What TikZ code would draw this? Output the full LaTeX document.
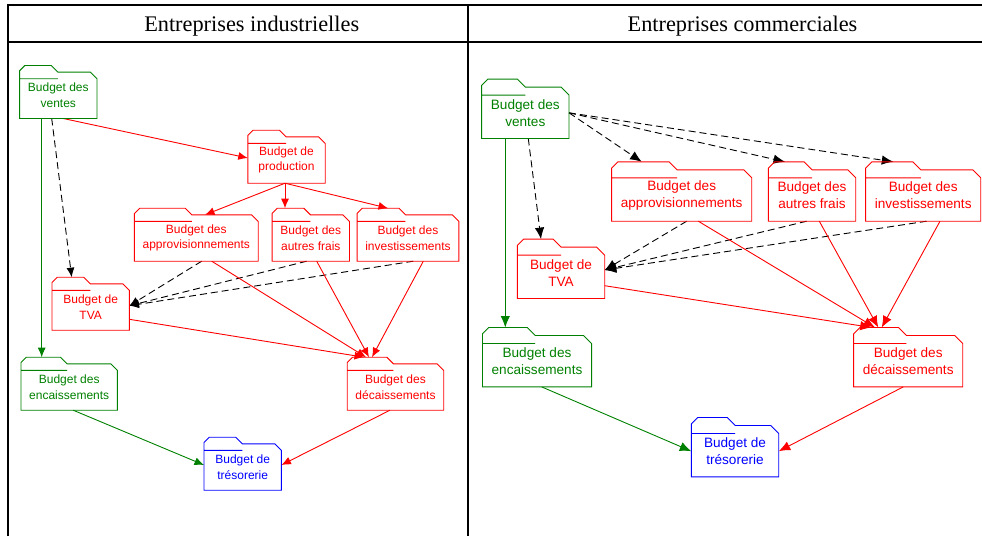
\documentclass[tikz,border=0pt]{standalone}
\usepackage{fontspec}
\setmainfont{Liberation Serif}
\setsansfont{Liberation Sans}
\usetikzlibrary{calc,arrows.meta}
\definecolor{vert}{RGB}{0,128,0}
\tikzset{>={Latex[length=9.5pt,width=8pt]},
  title/.style={font=\fontsize{22.3}{26}\selectfont,anchor=base},
  box/.style={inner xsep=8pt,inner ysep=0pt,align=center,minimum width=77pt,minimum height=46pt,
    font={\sffamily\fontsize{12}{15.5}\selectfont}},
  bigbox/.style={box,inner xsep=9pt,minimum width=87pt,minimum height=51pt,
    font={\sffamily\fontsize{13.6}{17}\selectfont}},
  flow/.style={->,line width=0.9pt},
  dep/.style={->,line width=0.9pt,dash pattern=on 7pt off 4pt}
}

\begin{document}
\begin{tikzpicture}[x=1pt,y=-1pt]
  \useasboundingbox (0,0) rectangle (982,536);
  % table
  \draw[line width=1.2pt] (8,536) -- (8,5) -- (982,5) (8,42) -- (982,42) (468,5) -- (468,536);
  \node[title] (titL) at (251.7,31.5) {Entreprises industrielles};
  \node[title] (titR) at (742.5,31.5) {Entreprises commerciales};

  % entreprises industrielles
  \node[box,text=vert] (venL) at (58.3,95.3) {Budget des\\ventes};
  \node[box,text=red] (prodL) at (286.5,160) {Budget de\\production};
  \node[box,text=red] (appL) at (196.3,238) {Budget des\\approvisionnements};
  \node[box,text=red] (autL) at (310.8,238) {Budget des\\autres frais};
  \node[box,text=red] (invL) at (408,238) {Budget des\\investissements};
  \node[box,text=red] (tvaL) at (90.7,307) {Budget de\\TVA};
  \node[box,text=vert] (encL) at (69.2,387) {Budget des\\encaissements};
  \node[box,text=red] (decL) at (395.5,387) {Budget des\\décaissements};
  \node[box,text=blue] (tresL) at (242.7,467) {Budget de\\trésorerie};

  \draw[flow,red] ([xshift=5pt]venL.south) -- ([yshift=2pt]prodL.west);
  \draw[dep] ([xshift=-6.6pt]venL.south) -- ([xshift=-19pt,yshift=6.6pt]tvaL.north);
  \draw[flow,vert] ([xshift=-16.6pt]venL.south) -- ([xshift=-27.5pt,yshift=6.6pt]encL.north);
  \draw[flow,red] ([xshift=-1.5pt]prodL.south) -- ([xshift=8.7pt]appL.north);
  \draw[flow,red] ([xshift=-1.5pt]prodL.south) -- ([xshift=-25.8pt,yshift=6.6pt]autL.north);
  \draw[flow,red] ([xshift=-1.5pt]prodL.south) -- ([xshift=-20pt,yshift=6.6pt]invL.north);
  \foreach \s/\d in {appL/5.4,autL/-4.1,invL/5.3}
    \draw[dep] ([xshift=\d pt]\s.south) -- ([yshift=1.3pt]tvaL.east);
  \foreach \s/\d/\e in {appL/15.4/-29.5,autL/5.9/-26.5,invL/15.3/-23.5}
    \draw[flow,red] ([xshift=\d pt]\s.south) -- ([xshift=\e pt,yshift=6.6pt]decL.north);
  \draw[flow,red] ([yshift=-12.3pt]tvaL.east) -- ([xshift=-31.5pt,yshift=6.6pt]decL.north);
  \draw[flow,vert] ([xshift=4pt]encL.south) -- ([yshift=2pt]tresL.west);
  \draw[flow,red] ([xshift=-5.5pt]decL.south) -- ([yshift=2pt]tresL.east);

  % entreprises commerciales
  \node[bigbox,text=vert] (venR) at (525.3,112.8) {Budget des\\ventes};
  \node[bigbox,text=red] (appR) at (681.7,195.5) {Budget des\\approvisionnements};
  \node[bigbox,text=red] (autR) at (812,195.5) {Budget des\\autres frais};
  \node[bigbox,text=red] (invR) at (923.2,195.5) {Budget des\\investissements};
  \node[bigbox,text=red] (tvaR) at (561,272.8) {Budget de\\TVA};
  \node[bigbox,text=vert] (encR) at (537,361.2) {Budget des\\encaissements};
  \node[bigbox,text=red] (decR) at (908.2,361.2) {Budget des\\décaissements};
  \node[bigbox,text=blue] (tresR) at (735,451.2) {Budget de\\trésorerie};

  \begin{scope}[>={Latex[length=11.5pt,width=9.5pt]}]
  \foreach \d/\e in {appR/-40,autR/-27,invR/-29.9}
    \draw[dep] (venR.east) -- ([xshift=\e pt,yshift=8pt]\d.north);
  \draw[dep] ([xshift=3pt]venR.south) -- ([xshift=-20pt,yshift=8pt]tvaR.north);
  \draw[flow,vert] ([xshift=-20pt]venR.south) -- ([xshift=-31.7pt,yshift=8pt]encR.north);
  \foreach \s/\d in {appR/5,autR/-5.3,invR/3.5}
    \draw[dep] ([xshift=\d pt]\s.south) -- ([yshift=2.8pt]tvaR.east);
  \foreach \s/\d/\e in {appR/16.6/-33.2,autR/7.3/-29.9,invR/16.8/-26.5}
    \draw[flow,red] ([xshift=\d pt]\s.south) -- ([xshift=\e pt,yshift=8pt]decR.north);
  \draw[flow,red] ([yshift=-12.9pt]tvaR.east) -- ([xshift=-36.5pt,yshift=8pt]decR.north);
  \draw[flow,vert] ([xshift=4.7pt]encR.south) -- (tresR.west);
  \draw[flow,red] ([xshift=-5pt]decR.south) -- (tresR.east);
  \end{scope}

  % folder outlines
  \def\tabh{6.6pt}
  \foreach \b/\c in {venL/vert,prodL/red,appL/red,autL/red,invL/red,tvaL/red,encL/vert,decL/red,tresL/blue}
    \draw[\c,line width=0.9pt] let \p1=(\b.south west), \p2=(\b.north east),
        \p3=($(\b.north west)!0.41!(\b.north east)$) in
      (\x1,\y1) -- (\x1,\y2+0.2*\tabh) -- (\x1+0.8*\tabh,\y2+\tabh) -- (\x3,\y2+\tabh)
      -- (\x3+\tabh,\y2) -- (\x2-\tabh,\y2) -- (\x2,\y2-\tabh) -- (\x2,\y1) -- cycle
      (\x1,\y2-\tabh) -- (\x3+\tabh,\y2-\tabh);
  \def\tabh{8pt}
  \foreach \b/\c in {venR/vert,appR/red,autR/red,invR/red,tvaR/red,encR/vert,decR/red,tresR/blue}
    \draw[\c,line width=0.9pt] let \p1=(\b.south west), \p2=(\b.north east),
        \p3=($(\b.north west)!0.41!(\b.north east)$) in
      (\x1,\y1) -- (\x1,\y2+0.2*\tabh) -- (\x1+0.8*\tabh,\y2+\tabh) -- (\x3,\y2+\tabh)
      -- (\x3+\tabh,\y2) -- (\x2-\tabh,\y2) -- (\x2,\y2-\tabh) -- (\x2,\y1) -- cycle
      (\x1,\y2-\tabh) -- (\x3+\tabh,\y2-\tabh);
\end{tikzpicture}
\end{document}
